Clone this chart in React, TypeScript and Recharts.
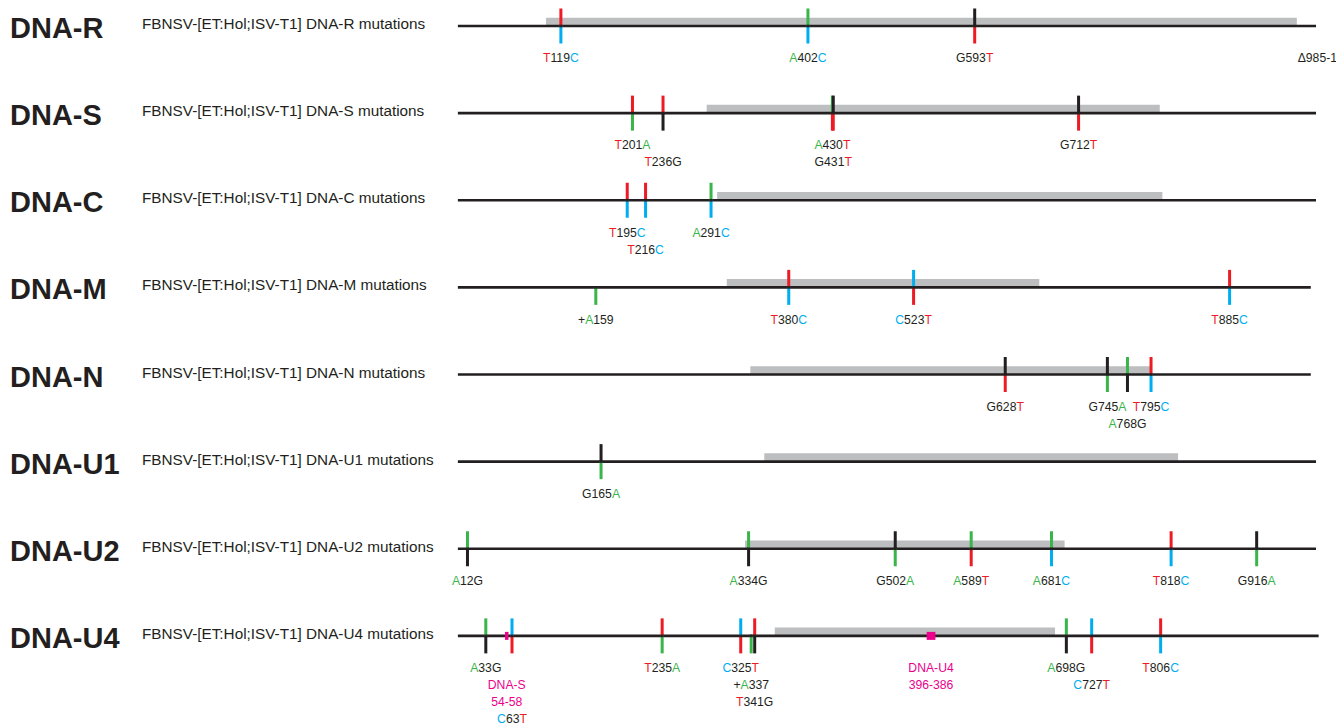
import { ComposedChart, XAxis, YAxis, Scatter, ReferenceArea, ReferenceLine } from 'recharts'

// FBNSV segments, one row each
const segments = ['DNA-R', 'DNA-S', 'DNA-C', 'DNA-M', 'DNA-N', 'DNA-U1', 'DNA-U2', 'DNA-U4']
const segmentLengths = [984, 984, 984, 978, 978, 984, 984, 987]
// coding region (grey bar) per segment, in nt
const geneStarts = [102, 286, 298, 309, 336, 352, 330, 364]
const geneEnds = [962, 805, 808, 667, 794, 826, 696, 685]

const mutationsR = ['T119C', 'A402C', 'G593T']
const mutationsS = ['T201A', 'T236G', 'A430T', 'G431T', 'G712T']
const mutationsC = ['T195C', 'T216C', 'A291C']
const mutationsM = ['+A159', 'T380C', 'C523T', 'T885C']
const mutationsN = ['G628T', 'G745A', 'A768G', 'T795C']
const mutationsU1 = ['G165A']
const mutationsU2 = ['A12G', 'A334G', 'G502A', 'A589T', 'A681C', 'T818C', 'G916A']
const mutationsU4 = ['A33G', 'C63T', 'T235A', 'C325T', '+A337', 'T341G', 'A698G', 'C727T', 'T806C']
const mutations = [mutationsR, mutationsS, mutationsC, mutationsM, mutationsN, mutationsU1, mutationsU2, mutationsU4]

// recombinant inserts in DNA-U4
const insertStarts = [55, 538]
const insertEnds = [59, 548]
const insertLabels = [['DNA-S', '54-58'], ['DNA-U4', '396-386']]
const insertRow = 7

const deletionLabel = 'Δ985-1'
const deletionPos = 963

const X_MAX = 1000
const PLOT_LEFT = 457
const PLOT_WIDTH = 873
const PX_PER_NT = PLOT_WIDTH / X_MAX

const INK = '#231f20'
const GREY = '#bcbec0'
const PINK = '#ec008c'
const BASE_COLORS: Record<string, string> = { A: '#39b54a', C: '#00aeef', G: INK, T: '#ed1c24' }
const FONT = '"Liberation Sans", Arial, Helvetica, sans-serif'

type Part = { t: string; c: string }

function parseMutation(code: string) {
  const m = code.match(/^(\+?)([ACGT])(\d+)([ACGT]?)$/)!
  const pos = Number(m[3])
  if (m[1] === '+') {
    return {
      pos, ref: null as string | null, alt: m[2],
      parts: [{ t: '+', c: INK }, { t: m[2], c: BASE_COLORS[m[2]] }, { t: m[3], c: INK }],
    }
  }
  return {
    pos, ref: m[2] as string | null, alt: m[4],
    parts: [{ t: m[2], c: BASE_COLORS[m[2]] }, { t: m[3], c: INK }, { t: m[4], c: BASE_COLORS[m[4]] }],
  }
}

const textWidth = (s: string) => s.length * 7

const tickData: { x: number; y: number; ref: string | null; alt: string }[] = []
const labelData: { x: number; y: number; line: number; parts: Part[]; anchor: string }[] = []

mutations.forEach((list, row) => {
  const items: { x: number; width: number; lines: Part[][] }[] = []
  list.forEach((code) => {
    const mu = parseMutation(code)
    tickData.push({ x: mu.pos, y: row, ref: mu.ref, alt: mu.alt })
    items.push({ x: mu.pos, width: textWidth(code), lines: [mu.parts] })
  })
  if (row === insertRow) {
    insertStarts.forEach((s, k) => {
      items.push({
        x: (s + insertEnds[k]) / 2,
        width: Math.max(...insertLabels[k].map(textWidth)),
        lines: insertLabels[k].map((t) => [{ t, c: PINK }]),
      })
    })
  }
  items.sort((a, b) => a.x - b.x)
  // stack labels that would collide
  const placed: { x: number; width: number; first: number; last: number }[] = []
  items.forEach((it) => {
    let first = 0
    const clash = (f: number) =>
      placed.some((p) => {
        const last = f + it.lines.length - 1
        const linesMeet = p.first <= last && f <= p.last
        return linesMeet && Math.abs(p.x - it.x) * PX_PER_NT < (p.width + it.width) / 2 + 2
      })
    while (clash(first)) first++
    placed.push({ x: it.x, width: it.width, first, last: first + it.lines.length - 1 })
    it.lines.forEach((parts, k) => labelData.push({ x: it.x, y: row, line: first + k, parts, anchor: 'middle' }))
  })
})
labelData.push({ x: deletionPos, y: 0, line: 0, parts: [{ t: deletionLabel, c: INK }], anchor: 'start' })

const rowTicks = segments.map((_, i) => i)

function RowTitle(props: any) {
  const { y, payload } = props
  const name = segments[payload.value]
  return (
    <g>
      <text x={10} y={y + 12} fontSize={29} fontWeight="bold" fill={INK} fontFamily={FONT}>{name}</text>
      <text x={142} y={y + 3} fontSize={15.3} fill={INK} fontFamily={FONT}>
        {`FBNSV-[ET:Hol;ISV-T1] ${name} mutations`}
      </text>
    </g>
  )
}

function MutationTick(props: any) {
  const { cx, cy, payload } = props
  return (
    <g>
      {payload.ref && <rect x={cx - 1.5} y={cy - 17.5} width={3} height={17.5} fill={BASE_COLORS[payload.ref]} />}
      <rect x={cx - 1.5} y={cy} width={3} height={17.5} fill={BASE_COLORS[payload.alt]} />
      <rect x={cx - 1.5} y={cy - 1.3} width={3} height={2.6} fill={INK} />
    </g>
  )
}

function MutationLabel(props: any) {
  const { cx, cy, payload } = props
  return (
    <text x={cx} y={cy + 36.3 + payload.line * 17} textAnchor={payload.anchor} fontSize={12.2} fontFamily={FONT}>
      {payload.parts.map((p: Part, k: number) => (
        <tspan key={k} fill={p.c}>{p.t}</tspan>
      ))}
    </text>
  )
}

export default function App() {
  return (
    <div style={{ position: 'absolute', left: 0, top: 0, background: '#fff' }}>
      <ComposedChart
        width={1336}
        height={725}
        margin={{ top: 26, right: 1336 - PLOT_LEFT - PLOT_WIDTH, bottom: 2, left: PLOT_LEFT - 60 }}
      >
        <XAxis type="number" dataKey="x" domain={[0, X_MAX]} hide />
        <YAxis
          type="number"
          dataKey="y"
          domain={[0, 8]}
          reversed
          ticks={rowTicks}
          interval={0}
          tick={<RowTitle />}
          axisLine={false}
          tickLine={false}
          width={60}
        />
        {segments.map((s, i) => (
          <ReferenceArea
            key={`gene-${s}`}
            x1={geneStarts[i]}
            x2={geneEnds[i]}
            y1={i - 0.095}
            y2={i}
            fill={GREY}
            fillOpacity={1}
            stroke="none"
            ifOverflow="visible"
          />
        ))}
        {segments.map((s, i) => (
          <ReferenceLine
            key={`line-${s}`}
            segment={[{ x: 1, y: i }, { x: segmentLengths[i], y: i }]}
            stroke={INK}
            strokeWidth={2.6}
          />
        ))}
        <Scatter data={tickData} shape={MutationTick} isAnimationActive={false} legendType="none" />
        {insertStarts.map((s, k) => (
          <ReferenceArea
            key={`ins-${k}`}
            x1={s}
            x2={insertEnds[k]}
            y1={insertRow - 0.046}
            y2={insertRow + 0.046}
            fill={PINK}
            fillOpacity={1}
            stroke="none"
            zIndex={900}
          />
        ))}
        <Scatter data={labelData} shape={MutationLabel} isAnimationActive={false} legendType="none" />
      </ComposedChart>
    </div>
  )
}
